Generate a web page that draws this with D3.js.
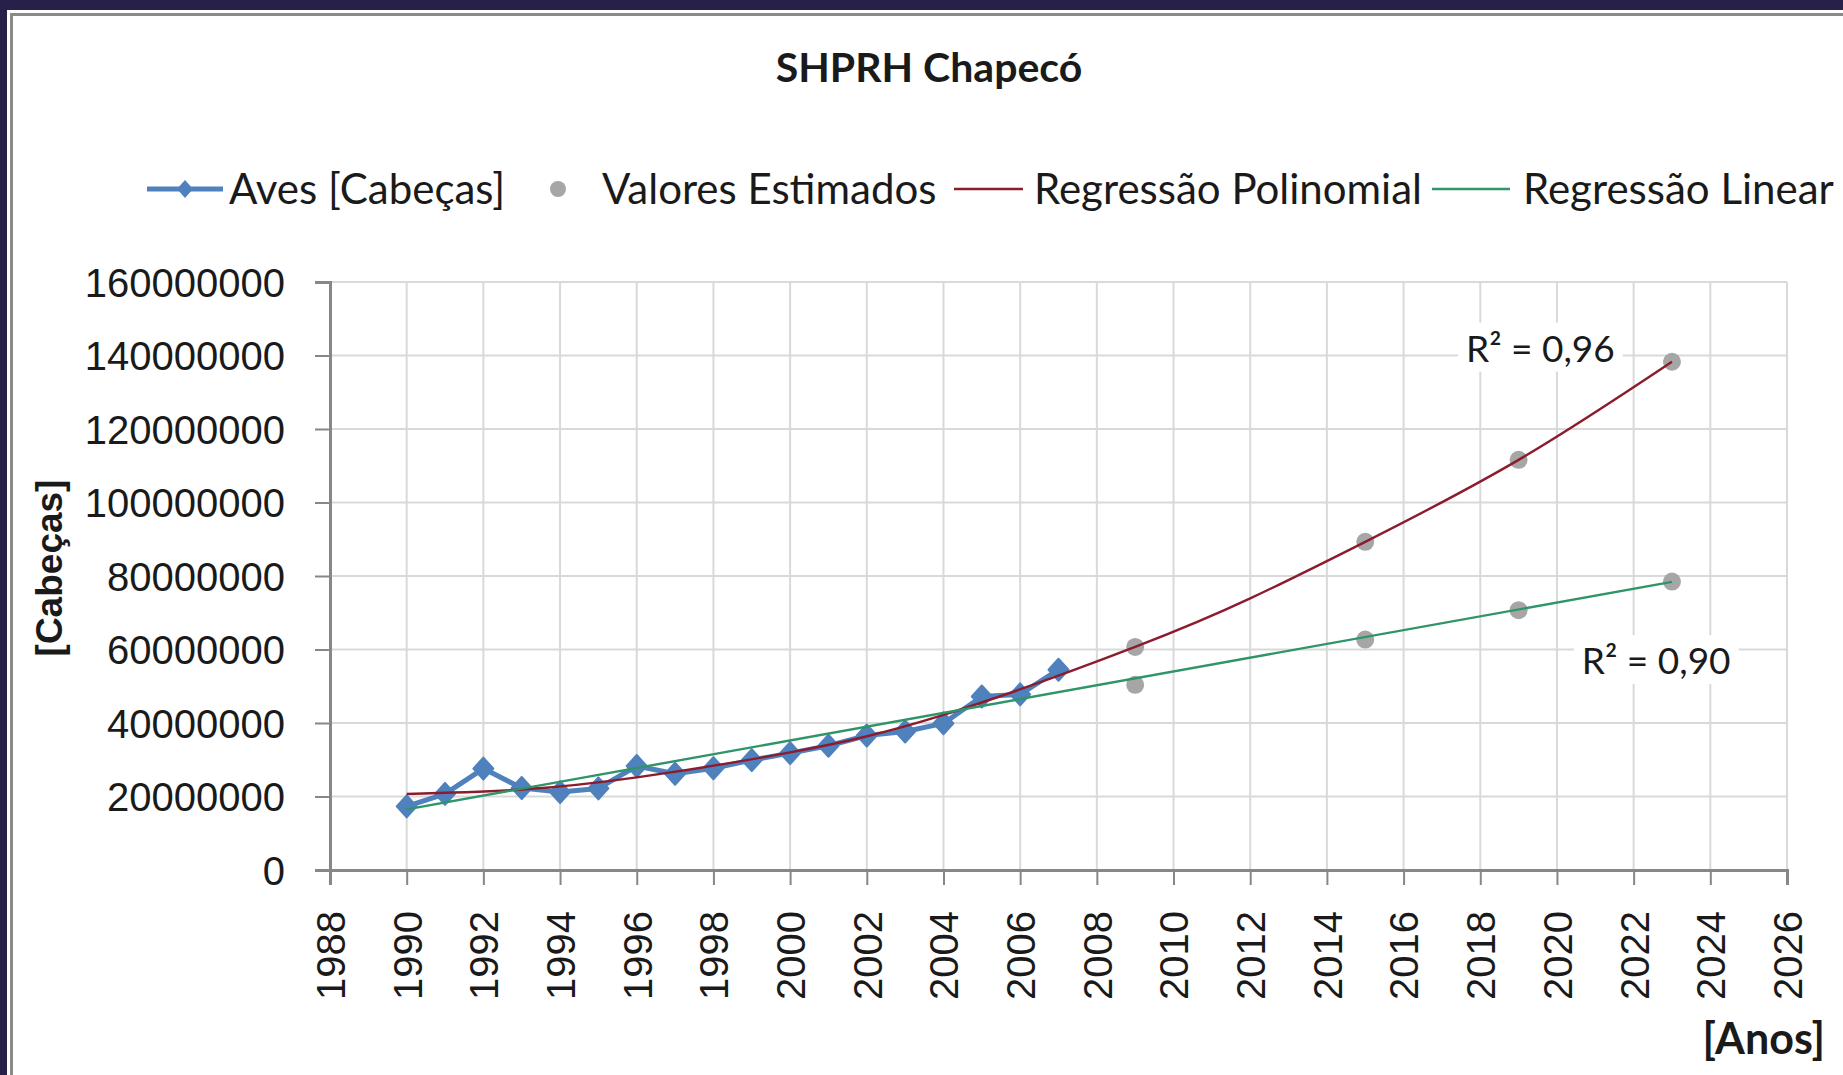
<!DOCTYPE html>
<html>
<head>
<meta charset="utf-8">
<script src="https://cdn.jsdelivr.net/npm/d3@7"></script>
<style>
  html, body { margin: 0; padding: 0; background: #ffffff; }
  svg { display: block; }
</style>
</head>
<body>
<svg id="chart" width="1843" height="1075"></svg>
<script>
// ---------------- DATA ----------------
const title = "SHPRH Chapecó";
const yTitle = "[Cabeças]";
const xTitle = "[Anos]";
const legendLabels = ["Aves [Cabeças]", "Valores Estimados", "Regressão Polinomial", "Regressão Linear"];

const years = [1990,1991,1992,1993,1994,1995,1996,1997,1998,1999,2000,2001,2002,2003,2004,2005,2006,2007];
const aves  = [17.3e6,20.7e6,27.6e6,22.3e6,21.2e6,22.2e6,28.3e6,26.2e6,27.7e6,29.9e6,31.8e6,33.8e6,36.6e6,37.7e6,39.9e6,47.2e6,47.8e6,54.5e6];

const estYears  = [2009, 2009, 2015, 2015, 2019, 2019, 2023, 2023];
const estValues = [60.7e6, 50.4e6, 89.3e6, 62.7e6, 111.6e6, 70.7e6, 138.3e6, 78.5e6];

const polyYears  = [1990, 1993, 1996, 2000, 2004, 2009, 2012, 2015, 2019, 2023];
const polyValues = [20.7e6, 21.9e6, 25.2e6, 32.0e6, 42.2e6, 60.7e6, 73.9e6, 89.3e6, 111.6e6, 138.3e6];

const linYears  = [1990, 2023];
const linValues = [16.5e6, 78.4e6];

const r2Labels = ["R² = 0,96", "R² = 0,90"];
const r2Pos = [[2017.63, 141.6e6], [2020.65, 56.6e6]];   // label anchor (year, value)

const xTicks = d3.range(1988, 2027, 2);
const yTicks = d3.range(0, 160e6 + 1, 20e6);

// ---------------- LAYOUT ----------------
const svg = d3.select("#chart");
const W = 1843, H = 1075;
const x = d3.scaleLinear().domain([1988, 2026]).range([330, 1787]);
const y = d3.scaleLinear().domain([0, 160e6]).range([870, 282]);

const C = {
  navy: "#27214a", frame: "#8a8a8a", grid: "#d9d9d9", axis: "#878787",
  blue: "#4f81bd", gray: "#a6a6a6", poly: "#8b1c2e", lin: "#2f9468", text: "#1a1a1a"
};

// frame
svg.append("rect").attr("x", 0).attr("y", 0).attr("width", W).attr("height", H).attr("fill", "#fff");
svg.append("rect").attr("x", 0).attr("y", 0).attr("width", W).attr("height", 10).attr("fill", C.navy);
svg.append("rect").attr("x", 0).attr("y", 0).attr("width", 7).attr("height", H).attr("fill", C.navy);
svg.append("rect").attr("x", 10).attr("y", 13).attr("width", W - 10).attr("height", 3).attr("fill", C.frame);
svg.append("rect").attr("x", 10).attr("y", 13).attr("width", 3).attr("height", H - 13).attr("fill", C.frame);

// title
svg.append("text").attr("x", 929).attr("y", 82).attr("text-anchor", "middle")
  .attr("font-family", "Lato, 'Open Sans', sans-serif").attr("font-weight", "bold")
  .attr("font-size", 41).attr("fill", C.text).text(title);

// gridlines
const g = svg.append("g");
g.selectAll("line.hg").data(yTicks.filter(d => d > 0)).enter().append("line")
  .attr("x1", x(1988)).attr("x2", x(2026)).attr("y1", d => y(d)).attr("y2", d => y(d))
  .attr("stroke", C.grid).attr("stroke-width", 2);
g.selectAll("line.vg").data(xTicks.filter(d => d > 1988)).enter().append("line")
  .attr("x1", d => x(d)).attr("x2", d => x(d)).attr("y1", y(0)).attr("y2", y(160e6))
  .attr("stroke", C.grid).attr("stroke-width", 2);

// axes
const yAxis = svg.append("g").attr("transform", `translate(${x(1988)},0)`)
  .call(d3.axisLeft(y).tickValues(yTicks).tickSize(15).tickPadding(30).tickFormat(d3.format("d")));
const xAxis = svg.append("g").attr("transform", `translate(0,${y(0)})`)
  .call(d3.axisBottom(x).tickValues(xTicks).tickSize(15).tickFormat(d3.format("d")));
[yAxis, xAxis].forEach(a => {
  a.select(".domain").attr("stroke", C.axis).attr("stroke-width", 3);
  a.selectAll(".tick line").attr("stroke", C.axis).attr("stroke-width", 2);
  a.selectAll("text").attr("font-family", "'Liberation Sans', Arial, sans-serif")
    .attr("font-size", 40).attr("fill", C.text);
});
yAxis.selectAll("text").attr("x", -45).attr("dy", "0.36em");
xAxis.selectAll(".tick text")
  .attr("transform", "translate(0,41) rotate(-90)")
  .attr("text-anchor", "end").attr("x", 0).attr("y", 0).attr("dy", "0.36em");

// axis titles
svg.append("text").attr("transform", "translate(62,568) rotate(-90)")
  .attr("text-anchor", "middle")
  .attr("font-family", "'Liberation Sans', Arial, sans-serif").attr("font-weight", "bold")
  .attr("font-size", 37).attr("fill", C.text).text(yTitle);
svg.append("text").attr("x", 1825).attr("y", 1054).attr("text-anchor", "end")
  .attr("font-family", "Lato, sans-serif").attr("font-weight", "bold")
  .attr("font-size", 43).attr("fill", C.text).text(xTitle);

// data series
const avesData = years.map((d, i) => [d, aves[i]]);
const line = d3.line().x(d => x(d[0])).y(d => y(d[1]));
svg.append("path").datum(avesData).attr("d", line)
  .attr("fill", "none").attr("stroke", C.blue).attr("stroke-width", 5).attr("stroke-linejoin", "round");
const diamondPath = (hw, hh) => `M0,${-hh}L${hw},0L0,${hh}L${-hw},0Z`;
svg.selectAll("path.m").data(avesData).enter().append("path")
  .attr("d", diamondPath(10, 11)).attr("transform", d => `translate(${x(d[0])},${y(d[1])})`)
  .attr("fill", C.blue).attr("stroke", C.blue).attr("stroke-width", 2).attr("stroke-linejoin", "round");

// estimated values
svg.selectAll("circle.e").data(estYears.map((d, i) => [d, estValues[i]])).enter().append("circle")
  .attr("cx", d => x(d[0])).attr("cy", d => y(d[1])).attr("r", 9).attr("fill", C.gray);

// trendlines
const polyData = polyYears.map((d, i) => [d, polyValues[i]]);
svg.append("path").datum(polyData).attr("d", d3.line().curve(d3.curveNatural).x(d => x(d[0])).y(d => y(d[1])))
  .attr("fill", "none").attr("stroke", C.poly).attr("stroke-width", 2.4);
const linData = linYears.map((d, i) => [d, linValues[i]]);
svg.append("path").datum(linData).attr("d", line)
  .attr("fill", "none").attr("stroke", C.lin).attr("stroke-width", 2.4);

// R² labels
r2Labels.forEach((t, i) => {
  const px = x(r2Pos[i][0]), py = y(r2Pos[i][1]);
  const txt = svg.append("text").attr("x", px).attr("y", py + 12)
    .attr("font-family", "Lato, sans-serif").attr("font-size", 37).attr("fill", C.text).text(t);
  const bb = txt.node().getBBox();
  svg.insert("rect", () => txt.node()).attr("x", bb.x - 8).attr("y", bb.y - 2)
    .attr("width", bb.width + 16).attr("height", bb.height + 4).attr("fill", "#fff");
});

// legend
const lg = svg.append("g").attr("font-family", "Lato, sans-serif").attr("font-size", 42).attr("fill", C.text);
const ly = 189;
// Aves
lg.append("line").attr("x1", 147).attr("x2", 223).attr("y1", ly).attr("y2", ly).attr("stroke", C.blue).attr("stroke-width", 5);
lg.append("path").attr("d", diamondPath(8, 9)).attr("transform", `translate(185,${ly})`).attr("fill", C.blue);
lg.append("text").attr("x", 229).attr("y", ly + 15).text(legendLabels[0]);
// Valores Estimados
lg.append("circle").attr("cx", 558).attr("cy", ly).attr("r", 8).attr("fill", C.gray);
lg.append("text").attr("x", 602).attr("y", ly + 15).text(legendLabels[1]);
// Poly
lg.append("line").attr("x1", 954).attr("x2", 1023).attr("y1", ly).attr("y2", ly).attr("stroke", C.poly).attr("stroke-width", 2.5);
lg.append("text").attr("x", 1034).attr("y", ly + 15).text(legendLabels[2]);
// Linear
lg.append("line").attr("x1", 1432).attr("x2", 1510).attr("y1", ly).attr("y2", ly).attr("stroke", C.lin).attr("stroke-width", 2.5);
lg.append("text").attr("x", 1523).attr("y", ly + 15).text(legendLabels[3]);
</script>
</body>
</html>
